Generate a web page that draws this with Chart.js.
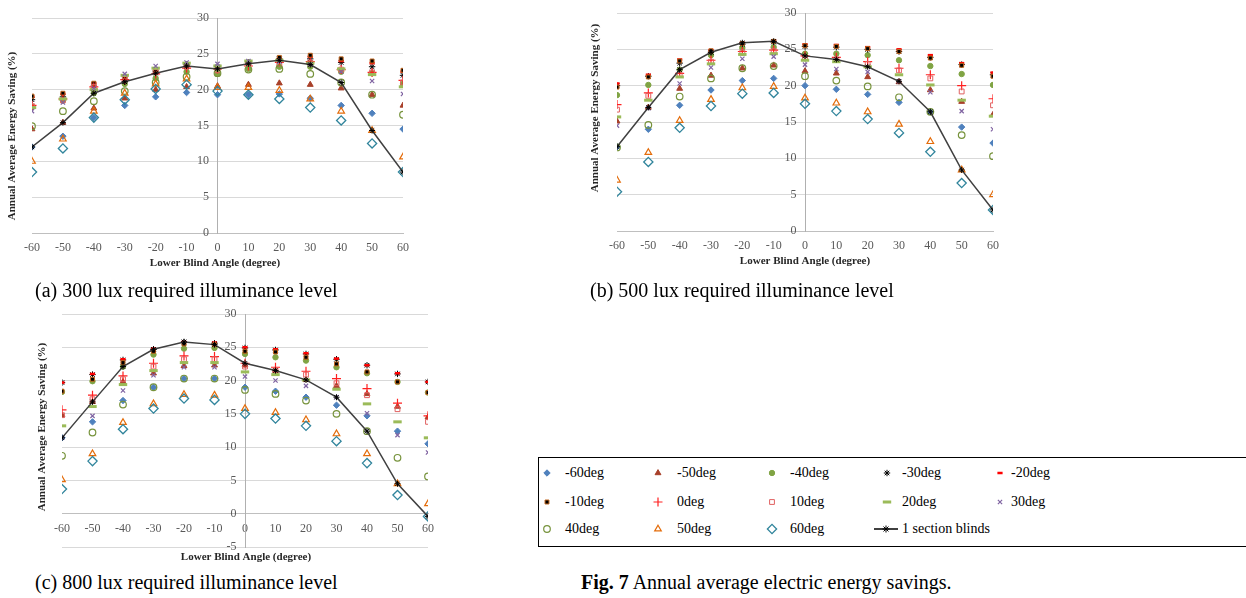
<!DOCTYPE html>
<html>
<head>
<meta charset="utf-8">
<script src="https://cdn.jsdelivr.net/npm/chart.js@4.4.1/dist/chart.umd.min.js"></script>
<style>
body { margin: 0; width: 1246px; height: 598px; overflow: hidden; background: #fff; position: relative; font-family: "Liberation Serif", serif; }
canvas { position: absolute; }
.cap { position: absolute; font-size: 20px; line-height: 20px; white-space: nowrap; color: #000; }
#legend { position: absolute; left: 538px; top: 457px; width: 730px; height: 90px; border: 1px solid #000; box-sizing: border-box; }
.lg { position: absolute; font-size: 14px; line-height: 14px; white-space: nowrap; color: #000; }
</style>
</head>
<body>
<canvas id="chartA" width="420" height="275" style="left:0;top:0"></canvas>
<canvas id="chartB" width="430" height="270" style="left:580px;top:0"></canvas>
<canvas id="chartC" width="445" height="270" style="left:0;top:300px"></canvas>

<div class="cap" style="left:35px;top:280px">(a) 300 lux required illuminance level</div>
<div class="cap" style="left:590px;top:280px">(b) 500 lux required illuminance level</div>
<div class="cap" style="left:35px;top:572px">(c) 800 lux required illuminance level</div>
<div class="cap" style="left:581px;top:572px"><b>Fig. 7</b> Annual average electric energy savings.</div>

<div id="legend"></div>
<canvas id="legendMarks" width="708" height="90" style="left:538px;top:457px"></canvas>

<script>
// lower blind angle (x axis)
const angles = [-60, -50, -40, -30, -20, -10, 0, 10, 20, 30, 40, 50, 60];
// upper blind angle series
const seriesNames = ['-60deg', '-50deg', '-40deg', '-30deg', '-20deg', '-10deg', '0deg',
    '10deg', '20deg', '30deg', '40deg', '50deg', '60deg'];
const lineName = '1 section blinds';

// (a) 300 lux - one row per series, one column per lower blind angle
const saving300 = [
    [12.0, 13.5, 16.1, 17.8, 19.0, 19.6, 19.3, 19.3, 19.4, 18.8, 17.8, 16.7, 14.5],
    [14.5, 15.4, 17.4, 18.8, 20.0, 20.4, 20.5, 20.7, 20.9, 20.7, 20.2, 19.3, 17.8],
    [17.6, 18.5, 19.5, 20.8, 21.6, 22.5, 22.2, 22.9, 23.2, 23.2, 22.5, 22.3, 20.8],
    [18.6, 19.0, 20.5, 21.1, 22.6, 23.5, 23.2, 23.8, 24.3, 24.3, 23.8, 23.2, 22.0],
    [19.0, 19.4, 20.9, 21.7, 22.3, 23.4, 23.0, 23.8, 24.3, 24.6, 24.0, 23.7, 22.5],
    [19.1, 19.5, 20.9, 21.8, 22.8, 23.3, 23.1, 23.8, 24.5, 24.8, 24.3, 24.0, 22.7],
    [17.8, 18.7, 20.4, 21.4, 22.2, 23.0, 22.9, 23.3, 23.8, 23.9, 22.8, 22.4, 21.3],
    [17.7, 18.5, 20.4, 21.5, 22.5, 23.2, 22.7, 23.6, 23.6, 23.8, 22.8, 22.4, 21.0],
    [17.5, 18.7, 20.0, 22.0, 23.0, 23.7, 23.3, 24.0, 24.1, 23.7, 22.9, 22.1, 20.4],
    [17.0, 18.2, 20.2, 22.2, 23.3, 23.8, 23.6, 24.0, 23.9, 23.5, 22.5, 21.2, 19.4],
    [14.9, 17.0, 18.4, 19.8, 21.0, 21.8, 22.3, 22.8, 22.9, 22.2, 21.0, 19.3, 16.5],
    [10.0, 13.1, 17.0, 19.5, 20.8, 21.5, 20.3, 20.3, 19.9, 18.7, 17.0, 14.3, 10.6],
    [ 8.5, 11.8, 16.1, 18.6, 20.1, 20.7, 19.8, 19.3, 18.7, 17.5, 15.7, 12.5,  8.5]
];
const line300 = [12.0, 15.4, 19.5, 21.1, 22.3, 23.3, 22.9, 23.6, 24.1, 23.5, 21.0, 14.3, 8.5];

// (b) 500 lux
const saving500 = [
    [11.6, 14.0, 17.3, 19.4, 20.7, 21.0, 20.0, 19.5, 18.8, 17.7, 16.4, 14.3, 12.1],
    [15.1, 17.0, 19.6, 21.4, 22.4, 22.8, 22.0, 21.7, 21.2, 20.5, 19.4, 17.8, 16.0],
    [18.7, 20.1, 22.2, 24.2, 25.2, 25.3, 24.4, 24.4, 24.2, 23.5, 22.7, 21.6, 20.1],
    [20.0, 21.3, 23.1, 24.6, 25.7, 26.0, 25.4, 25.3, 25.0, 24.7, 23.9, 22.9, 21.5],
    [20.3, 21.5, 23.6, 24.9, 25.9, 26.2, 25.7, 25.6, 25.3, 25.0, 24.2, 23.1, 21.8],
    [19.8, 21.2, 23.4, 24.8, 25.8, 26.1, 25.5, 25.4, 25.1, 24.7, 23.8, 22.8, 21.3],
    [17.4, 19.0, 21.7, 23.5, 24.7, 24.9, 24.1, 23.9, 23.3, 22.4, 21.5, 20.0, 18.2],
    [16.7, 18.6, 21.5, 23.3, 24.6, 24.8, 23.8, 23.6, 23.0, 22.1, 21.0, 19.2, 17.3],
    [15.7, 18.0, 21.2, 23.0, 24.3, 24.4, 23.5, 23.3, 22.6, 21.5, 20.1, 18.0, 15.8],
    [14.5, 16.9, 20.3, 22.5, 23.7, 24.0, 22.9, 22.3, 21.9, 20.6, 19.1, 16.5, 14.0],
    [11.5, 14.6, 18.5, 21.0, 22.4, 22.7, 21.3, 20.7, 19.9, 18.4, 16.4, 13.2, 10.3],
    [ 7.0, 10.8, 15.2, 18.1, 19.7, 19.9, 18.3, 17.6, 16.4, 14.7, 12.3,  8.4,  5.0],
    [ 5.4,  9.5, 14.2, 17.2, 18.9, 19.0, 17.5, 16.5, 15.4, 13.5, 10.9,  6.6,  2.9]
];
const line500 = [11.6, 17.0, 22.2, 24.6, 25.9, 26.1, 24.1, 23.6, 22.6, 20.6, 16.4, 8.4, 2.9];

// (c) 800 lux
const saving800 = [
    [11.4, 13.8, 17.0, 19.0, 20.3, 20.3, 19.0, 18.4, 17.5, 16.3, 14.7, 12.4, 10.5],
    [14.8, 16.8, 19.8, 21.1, 22.2, 22.3, 22.3, 21.5, 20.1, 19.2, 18.0, 16.1, 14.5],
    [18.3, 19.9, 22.1, 23.9, 24.8, 24.9, 24.0, 23.5, 23.0, 22.0, 21.1, 19.8, 18.2],
    [19.7, 20.9, 23.1, 24.7, 25.8, 25.6, 24.9, 24.6, 24.0, 23.2, 22.3, 21.0, 19.8],
    [19.7, 21.0, 23.2, 24.8, 25.8, 25.7, 25.0, 24.7, 24.1, 23.3, 22.3, 21.1, 19.8],
    [18.4, 20.2, 22.7, 24.4, 25.5, 25.4, 24.4, 24.3, 23.5, 22.5, 21.3, 19.8, 18.2],
    [15.6, 17.8, 20.7, 22.6, 23.7, 23.6, 22.6, 22.0, 21.4, 20.3, 18.8, 16.6, 14.7],
    [14.8, 17.2, 20.2, 22.1, 23.2, 23.2, 22.1, 21.5, 20.9, 19.6, 17.8, 15.7, 13.8],
    [13.2, 16.1, 19.4, 21.5, 22.7, 22.7, 21.3, 20.9, 20.1, 18.7, 16.5, 13.8, 11.4],
    [11.4, 14.7, 18.5, 20.8, 22.0, 22.0, 20.6, 20.0, 19.2, 17.5, 15.1, 11.8,  9.2],
    [ 8.7, 12.2, 16.4, 19.0, 20.3, 20.3, 18.6, 18.0, 17.0, 15.0, 12.4,  8.4,  5.6],
    [ 5.1,  9.0, 13.7, 16.5, 17.9, 17.8, 15.8, 15.2, 14.1, 12.0,  9.0,  4.5,  1.5],
    [ 3.7,  7.9, 12.7, 15.8, 17.3, 17.1, 15.0, 14.3, 13.2, 10.9,  7.6,  2.8, -0.4]
];
const line800 = [11.4, 16.8, 22.1, 24.7, 25.8, 25.4, 22.6, 21.5, 20.1, 17.5, 12.4, 4.5, -0.4];

const xTitle = 'Lower Blind Angle (degree)';
const yTitle = 'Annual Average Energy Saving (%)';

// marker look for each series, same order as seriesNames
const markers = [
    {style: 'rectRot', r: 3.2, fill: '#4F81BD', stroke: '#4F81BD', w: 1},
    {style: 'triangle', r: 3.4, fill: '#A8402A', stroke: '#A8402A', w: 1},
    {style: 'circle', r: 2.7, fill: '#80A444', stroke: '#80A444', w: 1},
    {style: 'star', r: 3.2, fill: 'rgba(0,0,0,0)', stroke: '#000000', w: 1},
    {style: 'line', r: 2.6, fill: 'rgba(0,0,0,0)', stroke: '#FF0000', w: 2.5},
    {style: 'rect', r: 2.8, fill: '#000000', stroke: '#C0661F', w: 1},
    {style: 'cross', r: 4.5, fill: 'rgba(0,0,0,0)', stroke: '#FF2020', w: 1.2},
    {style: 'rect', r: 3.4, fill: 'rgba(0,0,0,0)', stroke: '#E06060', w: 1},
    {style: 'line', r: 4.2, fill: 'rgba(0,0,0,0)', stroke: '#9BBB59', w: 3},
    {style: 'crossRot', r: 3, fill: 'rgba(0,0,0,0)', stroke: '#8064A2', w: 1.2},
    {style: 'circle', r: 3.3, fill: 'rgba(0,0,0,0)', stroke: '#77933C', w: 1.2},
    {style: 'triangle', r: 3.8, fill: 'rgba(0,0,0,0)', stroke: '#E46C0A', w: 1.2},
    {style: 'rectRot', r: 4.6, fill: 'rgba(0,0,0,0)', stroke: '#31859C', w: 1.3}
];

const serif = '"Liberation Serif", "Times New Roman", serif';

// draws the two axis titles at fixed spots of each canvas
const axisTitles = {
    id: 'axisTitles',
    afterDraw(chart, args, opts) {
        const ctx = chart.ctx;
        ctx.save();
        ctx.font = 'bold 11px ' + serif;
        ctx.fillStyle = '#262626';
        ctx.textAlign = 'center';
        ctx.textBaseline = 'middle';
        ctx.fillText(xTitle, opts.xAt[0], opts.xAt[1]);
        ctx.translate(opts.yAt[0], opts.yAt[1]);
        ctx.rotate(-Math.PI / 2);
        ctx.fillText(yTitle, 0, 0);
        ctx.restore();
    }
};

function makeDatasets(rows, line) {
    const sets = rows.map((row, i) => {
        const m = markers[i];
        return {
            label: seriesNames[i],
            data: row.map((v, j) => ({x: angles[j], y: v})),
            showLine: false,
            pointStyle: m.style,
            pointRadius: m.r,
            pointBackgroundColor: m.fill,
            pointBorderColor: m.stroke,
            pointBorderWidth: m.w,
            order: 13 - i
        };
    });
    sets.push({
        label: lineName,
        data: line.map((v, j) => ({x: angles[j], y: v})),
        showLine: true,
        borderColor: '#404040',
        borderWidth: 1.5,
        pointStyle: 'star',
        pointRadius: 3,
        pointBorderColor: '#000000',
        pointBorderWidth: 1,
        order: 0
    });
    return sets;
}

function createChart(id, rows, line, yMin, pad, titles) {
    const tickFont = {family: serif, size: 12};
    return new Chart(document.getElementById(id), {
        type: 'scatter',
        data: {datasets: makeDatasets(rows, line)},
        options: {
            responsive: false,
            animation: false,
            events: [],
            layout: {padding: pad},
            plugins: {
                legend: {display: false},
                tooltip: {enabled: false},
                axisTitles: titles
            },
            scales: {
                x: {
                    type: 'linear',
                    min: -60,
                    max: 60,
                    position: {y: 0},
                    grid: {display: false, tickLength: 7},
                    border: {display: true, color: '#BFBFBF'},
                    ticks: {stepSize: 10, color: '#595959', font: tickFont, padding: 1, maxRotation: 0, autoSkip: false}
                },
                y: {
                    type: 'linear',
                    min: yMin,
                    max: 30,
                    position: {x: 0},
                    grid: {color: '#D9D9D9', tickLength: 4},
                    border: {display: true, color: '#B0B0B0'},
                    // labels sit on the axis line, so keep a small gap after each number
                    ticks: {stepSize: 5, color: '#595959', font: tickFont,
                        callback: v => v + '\u2002\u2009'}
                }
            }
        },
        plugins: [axisTitles]
    });
}

createChart('chartA', saving300, line300, 0,
    {left: 32, right: 17, top: 18, bottom: 42},
    {xAt: [215, 263], yAt: [12, 136]});
createChart('chartB', saving500, line500, 0,
    {left: 37, right: 17, top: 13, bottom: 39},
    {xAt: [225, 261], yAt: [15, 108]});
createChart('chartC', saving800, line800, -5,
    {left: 62, right: 17, top: 14, bottom: 23},
    {xAt: [246, 257], yAt: [42, 127]});

// shared legend box
const legendCols = [547, 658, 772, 887, 1000];
const legendText = [565, 677, 790, 902, 1011];
const legendRows = [473, 502, 529];
const legendBox = document.getElementById('legend');
const lctx = document.getElementById('legendMarks').getContext('2d');
const names = seriesNames.concat([lineName]);

names.forEach((name, i) => {
    const col = i % 5, row = Math.floor(i / 5);
    const mx = legendCols[col] - 538, my = legendRows[row] - 457;
    if (i < markers.length) {
        const m = markers[i];
        lctx.fillStyle = m.fill;
        lctx.strokeStyle = m.stroke;
        lctx.lineWidth = m.w;
        Chart.helpers.drawPoint(lctx, {pointStyle: m.style, radius: m.r, rotation: 0, borderWidth: m.w}, mx, my);
    } else {
        lctx.strokeStyle = '#000';
        lctx.lineWidth = 1.5;
        lctx.beginPath();
        lctx.moveTo(mx - 13, my);
        lctx.lineTo(mx + 11, my);
        lctx.stroke();
        lctx.lineWidth = 1;
        Chart.helpers.drawPoint(lctx, {pointStyle: 'star', radius: 3.5, rotation: 0, borderWidth: 1}, mx - 1, my);
    }
    const span = document.createElement('div');
    span.className = 'lg';
    span.textContent = name;
    span.style.left = (legendText[col] - 538 - 1) + 'px';
    span.style.top = (legendRows[row] - 457 - 8) + 'px';
    legendBox.appendChild(span);
});
</script>
</body>
</html>
